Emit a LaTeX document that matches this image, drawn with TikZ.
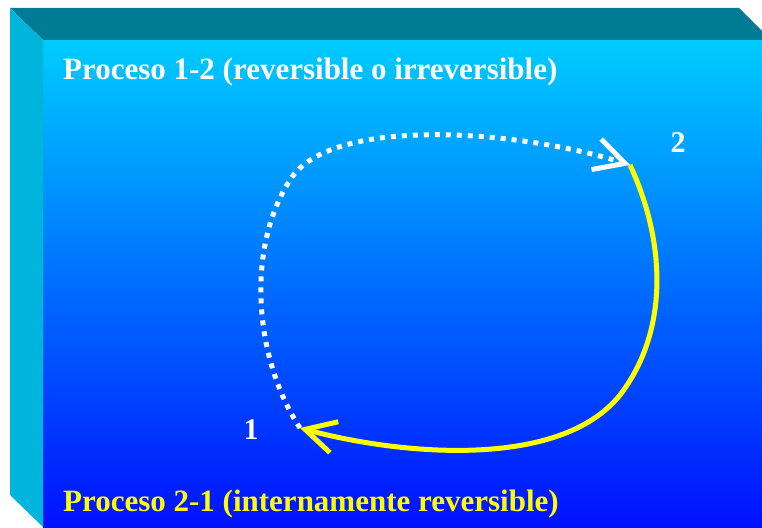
\documentclass[tikz,border=0pt]{standalone}
\usepackage{fontspec}
\setmainfont{Liberation Serif}
\usetikzlibrary{arrows.meta}
\definecolor{topface}{RGB}{0,123,150}
\definecolor{leftface}{RGB}{0,180,220}
\definecolor{fronttop}{RGB}{0,204,255}
\definecolor{frontbot}{RGB}{0,16,255}
\definecolor{yell}{RGB}{255,255,0}
\tikzset{
  big/.style={font=\fontsize{31}{36}\selectfont\bfseries, inner sep=0pt},
  num/.style={font=\fontsize{30}{36}\selectfont\bfseries, text=white, inner sep=0pt},
  barb/.style={-{Straight Barb[length=30pt,width=32pt,line width=5pt]}},
  dottedpath/.style={draw=white, line width=5pt, dash pattern=on 5pt off 6pt},
  solidpath/.style={draw=yell, line width=5pt},
}
\begin{document}
\begin{tikzpicture}[x=1pt,y=-1pt]
\useasboundingbox (0,0) rectangle (762,527);
% box faces
\shade[top color=fronttop, bottom color=frontbot] (43,40) rectangle (762,527);
\fill[topface] (10,8) -- (739,8) -- (762,31) -- (762,40) -- (43,40) -- cycle;
\fill[leftface] (10,8) -- (43,40) -- (43,527) -- (10,495) -- cycle;
% texts
\node[big, text=white, anchor=base west] (t1) at (63,79) {Proceso 1-2 (reversible o irreversible)};
\node[big, text=yell, anchor=base west] (t2) at (63,511) {Proceso 2-1 (internamente reversible)};
% points
\coordinate (p1) at (300,428);
\coordinate (p2) at (630,165);
\node[num] (n1) at (251,430) {1};
\node[num] (n2) at (678,143) {2};
% paths
\draw[dottedpath, barb] (p1) .. controls (255,360) and (245,250) .. (290,180)
   .. controls (330,115) and (520,130) .. (p2);
\draw[solidpath, barb] (p2) .. controls (665,240) and (670,330) .. (620,395)
   .. controls (560,470) and (400,455) .. (p1);
\end{tikzpicture}
\end{document}
